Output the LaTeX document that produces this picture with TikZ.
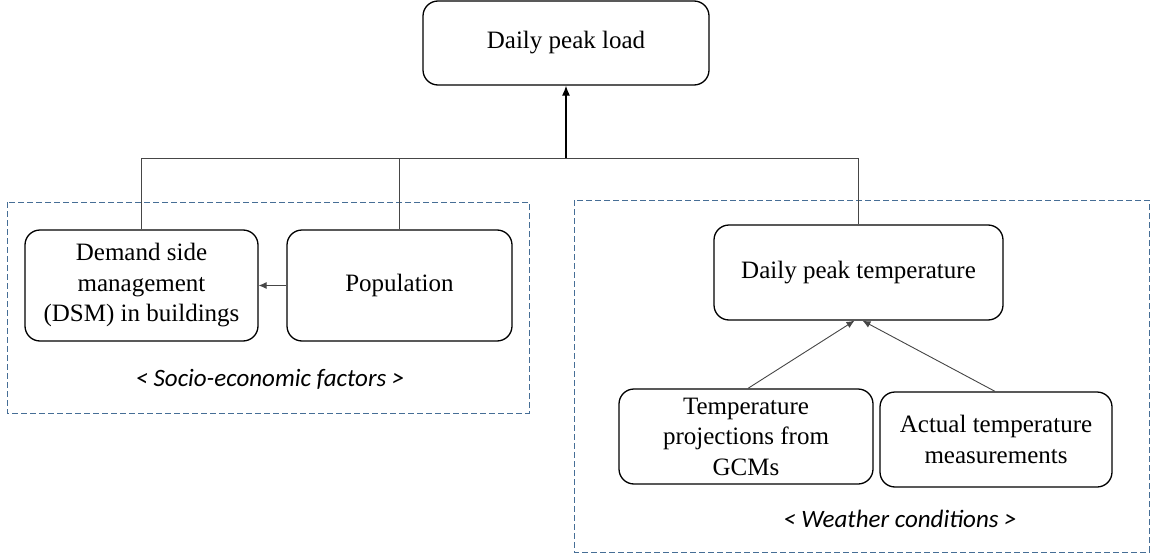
\documentclass[tikz,border=0pt]{standalone}
\usepackage{fontspec}
\setmainfont{Liberation Serif}
\newfontfamily\grouplabelfont{Carlito}
\usetikzlibrary{arrows.meta}
\definecolor{groupblue}{RGB}{70,110,150}
\definecolor{connectorgray}{RGB}{70,70,70}
\begin{document}
\begin{tikzpicture}[x=1pt,y=-1pt,
  box/.style={draw, line width=1.3pt, rounded corners=15pt, align=center,
    font=\fontsize{25}{30.5}\selectfont, inner sep=0pt},
  groupframe/.style={draw=groupblue, dash pattern=on 6pt off 3pt, line width=1pt},
  conn/.style={draw=connectorgray, line width=0.9pt},
  arr/.style={conn, -{Latex[length=8pt,width=7pt]}},
  bigarr/.style={draw=black, line width=1.2pt, -{Latex[length=10pt,width=8pt]}},
  grouplabel/.style={font=\grouplabelfont\itshape\fontsize{25}{30}\selectfont, inner sep=0pt, anchor=base}
]
\useasboundingbox (0,0) rectangle (1152,554);

% group frames
\draw[groupframe] (7,202) rectangle (529,413);
\draw[groupframe] (574,200) rectangle (1149,552);

% nodes
\node[box, minimum width=286pt, minimum height=84pt] (load) at (566,43) {Daily peak load};
\node[box, minimum width=233pt, minimum height=111pt] (dsm) at (141.5,285.5)
  {Demand side\\management\\(DSM) in buildings};
\node[box, minimum width=225pt, minimum height=111pt] (pop) at (399.5,285.5) {Population};
\node[box, minimum width=289pt, minimum height=95pt] (tpeak) at (858.5,272.5) {Daily peak temperature};
\node[box, minimum width=254pt, minimum height=95pt] (gcm) at (746,436.5)
  {Temperature\\projections from\\GCMs};
\node[box, minimum width=232pt, minimum height=95pt] (act) at (996,439.5)
  {Actual temperature\\measurements};

\node[grouplabel] (socio) at (270,386) {< Socio-economic factors >};
\node[grouplabel] (weather) at (900,527) {< Weather conditions >};

% connectors
\coordinate (j) at (566,158);
\draw[conn] (dsm.north) -- (dsm.north |- j) -- (tpeak.north |- j) -- (tpeak.north);
\draw[conn] (pop.north) -- (pop.north |- j);
\draw[bigarr] (j) -- (load.south);
\draw[arr] (pop.west) -- (dsm.east);
\draw[arr] ([xshift=2pt]gcm.north) -- ([xshift=-4pt]tpeak.south);
\draw[arr] ([xshift=-1pt]act.north) -- ([xshift=4pt]tpeak.south);
\end{tikzpicture}
\end{document}
